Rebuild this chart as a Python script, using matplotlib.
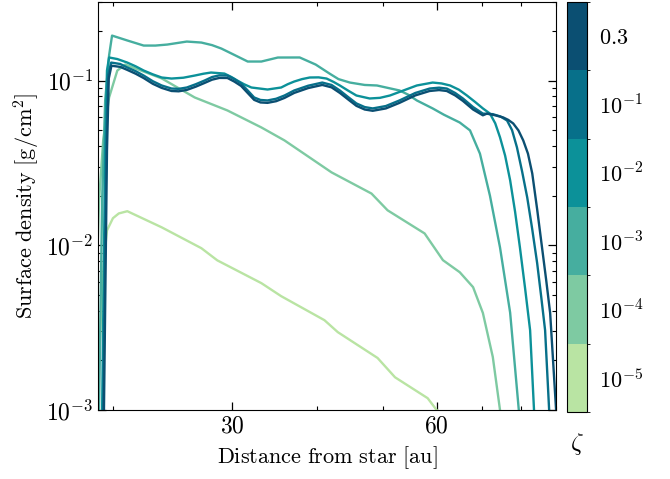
import numpy as np
import matplotlib
matplotlib.use('Agg')
import matplotlib.pyplot as plt
from matplotlib import colors as mcolors
from matplotlib import cm
from matplotlib.ticker import FixedLocator, FuncFormatter, NullFormatter, LogLocator

plt.rcParams['mathtext.fontset'] = 'cm'
plt.rcParams['font.family'] = 'serif'
plt.rcParams['font.serif'] = ['cmr10', 'DejaVu Serif']
plt.rcParams['axes.unicode_minus'] = False

# surface density profiles for each zeta value (r in au, sigma in g/cm^2)
r_5 = [18.9, 19.08, 19.22, 19.4, 19.6, 20.0, 20.4, 21.0, 23.6, 27.0, 28.5, 33.1,
       35.4, 41.0, 42.9, 49.1, 52.1, 58.2, 60.0, 61.0]
s_5 = [0.0009, 0.002, 0.00404, 0.00812, 0.0123, 0.0146, 0.0156, 0.0161, 0.01285,
       0.0096, 0.0081, 0.00589, 0.00491, 0.00351, 0.00297, 0.00207, 0.00158,
       0.00118, 0.001, 0.00095]

r_4 = [18.8, 18.96, 19.08, 19.35, 19.74, 20.3, 20.85, 23.6, 26.4, 29.5, 33.1, 35.8,
       39.2, 42.0, 48.1, 50.8, 57.6, 61.3, 64.9, 67.9, 70.2, 72.6, 74.4, 75.0]
s_4 = [0.004, 0.0081, 0.0187, 0.0433, 0.0789, 0.115, 0.125, 0.103, 0.0789, 0.0658,
       0.0519, 0.0433, 0.0336, 0.0277, 0.0206, 0.0163, 0.0118, 0.00812, 0.00686,
       0.00557, 0.00388, 0.0021, 0.001, 0.0009]

r_3 = [19.0, 19.08, 19.28, 19.48, 19.74, 19.94, 21.0, 22.2, 23.1, 24.05, 25.7, 27.0,
       28.0, 28.9, 30.2, 31.6, 33.1, 35.0, 37.7, 39.8, 41.7, 43.0, 44.7, 47.0, 49.0,
       52.9, 54.5, 56.1, 59.2, 61.5, 64.9, 67.2, 69.5, 71.9, 74.4, 77.0, 79.3, 79.8]
s_3 = [0.0005, 0.001, 0.0187, 0.0757, 0.1418, 0.1874, 0.175, 0.163, 0.163, 0.1653,
       0.1724, 0.17, 0.164, 0.1563, 0.143, 0.1304, 0.1304, 0.1379, 0.138, 0.125,
       0.1103, 0.102, 0.0972, 0.094, 0.0933, 0.087, 0.082, 0.0757, 0.0677, 0.062,
       0.0556, 0.0498, 0.036, 0.02, 0.0097, 0.0039, 0.001, 0.0008]

r_2 = [19.1, 19.28, 19.48, 19.6, 19.74, 20.3, 21.0, 21.6, 22.2, 22.9, 23.6, 24.4,
       25.4, 26.4, 27.2, 27.9, 29.2, 29.9, 30.5, 31.2, 32.0, 33.8, 35.4, 36.2, 37.0,
       38.0, 39.0, 40.2, 41.3, 42.3, 43.2, 44.4, 45.7, 47.8, 49.5, 51.2, 53.6, 56.1,
       59.2, 61.0, 62.8, 64.7, 66.5, 68.4, 70.2, 71.9, 73.2, 74.4, 75.7, 77.0, 78.3,
       79.6, 81.0, 82.4, 83.5, 84.0]
s_2 = [0.0005, 0.001, 0.0376, 0.115, 0.138, 0.135, 0.1285, 0.122, 0.115, 0.109,
       0.1043, 0.1028, 0.104, 0.1072, 0.110, 0.1118, 0.1102, 0.105, 0.1, 0.095,
       0.0907, 0.0882, 0.0907, 0.095, 0.0986, 0.102, 0.1043, 0.1045, 0.1028, 0.098,
       0.0933, 0.087, 0.0811, 0.0778, 0.0785, 0.0811, 0.087, 0.0933, 0.0972, 0.096,
       0.0933, 0.088, 0.0811, 0.074, 0.0677, 0.063, 0.055, 0.0452, 0.035, 0.0248,
       0.016, 0.0097, 0.0055, 0.00305, 0.001, 0.0008]

r_1 = [19.2, 19.35, 19.55, 19.67, 19.88, 20.5, 21.0, 21.6, 22.2, 22.9, 23.6, 24.4,
       25.0, 25.7, 26.5, 27.3, 28.0, 28.7, 29.5, 30.2, 30.9, 31.6, 32.3, 33.0, 33.8,
       34.8, 35.8, 37.0, 38.8, 40.7, 42.0, 43.2, 44.5, 45.7, 47.0, 48.3, 50.5, 52.9,
       55.8, 58.6, 60.5, 62.1, 63.9, 65.6, 67.9, 70.2, 72.6, 74.5, 76.2, 77.5, 78.8,
       80.2, 81.6, 83.0, 84.4, 85.6, 86.7, 87.9, 88.3]
s_1 = [0.0005, 0.001, 0.0376, 0.1072, 0.1285, 0.126, 0.12, 0.114, 0.1072, 0.099,
       0.0933, 0.0894, 0.089, 0.0907, 0.095, 0.1, 0.105, 0.1075, 0.1072, 0.102,
       0.0959, 0.087, 0.0789, 0.0762, 0.0757, 0.0775, 0.0811, 0.087, 0.093, 0.0972,
       0.094, 0.087, 0.079, 0.0726, 0.069, 0.0677, 0.070, 0.0757, 0.084, 0.0894,
       0.0905, 0.0894, 0.084, 0.0778, 0.069, 0.063, 0.0625, 0.0605, 0.0572, 0.05,
       0.0393, 0.028, 0.0195, 0.0125, 0.00778, 0.0048, 0.00305, 0.001, 0.0008]

r_03 = [19.25, 19.4, 19.6, 19.72, 19.9, 20.5, 21.0, 21.6, 22.2, 22.9, 23.6, 24.4,
        25.0, 25.7, 26.5, 27.3, 28.0, 28.7, 29.5, 30.2, 30.9, 31.6, 32.3, 33.0, 33.8,
        34.8, 35.8, 37.0, 38.8, 40.7, 42.0, 43.2, 44.5, 45.7, 47.0, 48.3, 50.5, 52.9,
        55.8, 58.6, 60.5, 62.1, 63.9, 65.6, 67.9, 70.2, 71.2, 73.2, 75.2, 76.5, 77.8,
        79.2, 80.5, 81.8, 83.0, 84.4, 85.8, 87.0, 88.2, 90.0]
s_03 = [0.0005, 0.001, 0.0376, 0.103, 0.123, 0.121, 0.116, 0.11, 0.1035, 0.0955,
        0.0902, 0.0864, 0.086, 0.0877, 0.0918, 0.0967, 0.1012, 0.1037, 0.1036, 0.0985,
        0.0927, 0.084, 0.0763, 0.0736, 0.0732, 0.0749, 0.0784, 0.0841, 0.09, 0.094,
        0.0909, 0.0841, 0.0764, 0.0702, 0.0667, 0.0655, 0.0677, 0.0732, 0.0812, 0.0864,
        0.0875, 0.0864, 0.0812, 0.0752, 0.0667, 0.0615, 0.063, 0.0615, 0.0597, 0.0577,
        0.0549, 0.0498, 0.0433, 0.036, 0.0273, 0.0165, 0.0097, 0.0062, 0.00388, 0.001]

zeta_labels = [r'$10^{-5}$', r'$10^{-4}$', r'$10^{-3}$', r'$10^{-2}$', r'$10^{-1}$', r'$0.3$']
zeta_colors = ['#b9e4a3', '#7ecaa2', '#46ae9f', '#0c9199', '#07708a', '#0b4f72']

profiles = [(r_5, s_5), (r_4, s_4), (r_3, s_3), (r_2, s_2), (r_1, s_1), (r_03, s_03)]

fig = plt.figure(figsize=(6.7, 4.79), dpi=100)
ax = fig.add_axes([0.146, 0.144, 0.684, 0.852])
cax = fig.add_axes([0.846, 0.140, 0.030, 0.856])

for (r, s), c in zip(profiles, zeta_colors):
    ax.plot(r, s, color=c, lw=1.7)

ax.set_xscale('log')
ax.set_yscale('log')
ax.set_xlim(19, 90)
ax.set_ylim(1e-3, 0.3)

ax.xaxis.set_major_locator(FixedLocator([30, 60]))
ax.xaxis.set_minor_locator(FixedLocator([20, 40, 50, 70, 80, 90]))
ax.xaxis.set_major_formatter(FuncFormatter(lambda v, p: r'$%d$' % v))
ax.xaxis.set_minor_formatter(NullFormatter())
ax.yaxis.set_major_locator(LogLocator(base=10, numticks=10))
ax.yaxis.set_major_formatter(FuncFormatter(lambda v, p: r'$10^{%d}$' % round(np.log10(v))))
ax.yaxis.set_minor_locator(LogLocator(base=10, subs=np.arange(2, 10), numticks=20))
ax.yaxis.set_minor_formatter(NullFormatter())
ax.tick_params(which='both', direction='in', top=True, right=True, labelsize=17)
ax.tick_params(which='major', length=6, width=0.9)
ax.tick_params(which='minor', length=3, width=0.8)

ax.set_xlabel(r'$\mathrm{Distance\ from\ star\ [au]}$', fontsize=16, labelpad=5)
ax.set_ylabel(r'$\mathrm{Surface\ density\ [g/cm^2]}$', fontsize=16, labelpad=3)

cmap = mcolors.ListedColormap(zeta_colors)
norm = mcolors.BoundaryNorm(np.arange(0, 7), cmap.N)
cb = fig.colorbar(cm.ScalarMappable(norm=norm, cmap=cmap), cax=cax)
cb.set_ticks(np.arange(6) + 0.5)
cb.set_ticklabels(zeta_labels)
cb.ax.tick_params(length=0, labelsize=16, pad=9)
cb.ax.set_xlabel(r'$\zeta$', fontsize=18, labelpad=14)

fig.savefig('out.png', dpi=100)
